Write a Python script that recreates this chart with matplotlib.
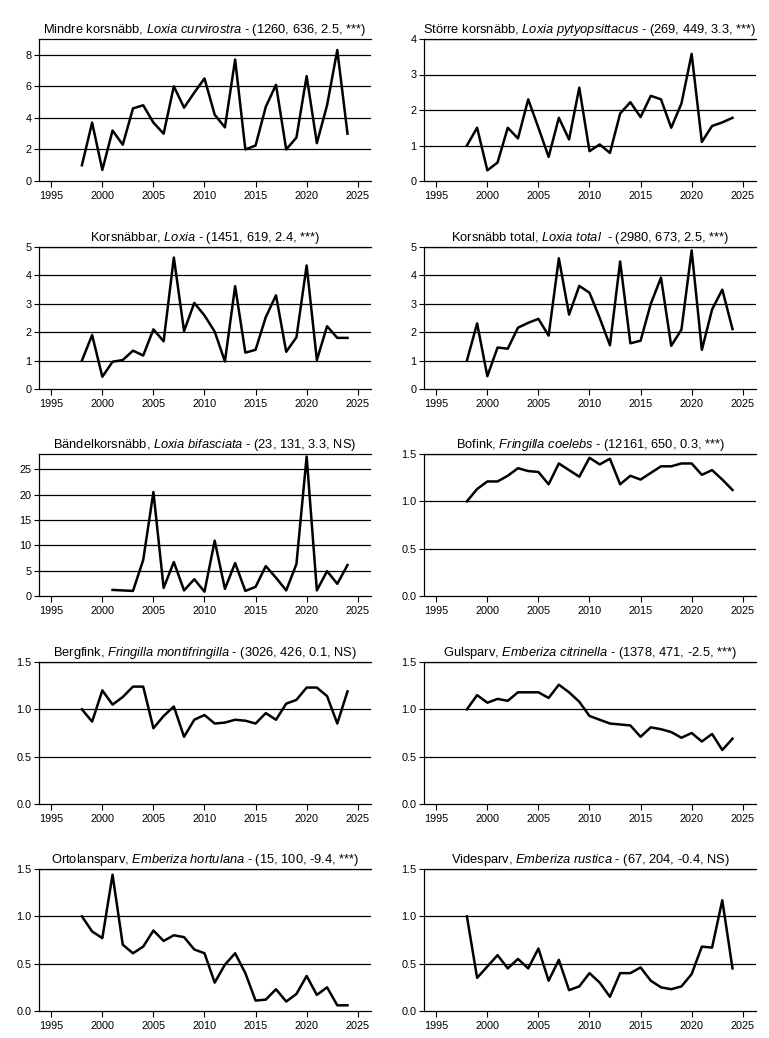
import matplotlib
matplotlib.use("Agg")
import matplotlib.pyplot as plt
import numpy as np

plt.rcParams['font.family'] = ['Liberation Sans', 'DejaVu Sans']
plt.rcParams['mathtext.fontset'] = 'custom'
plt.rcParams['mathtext.rm'] = 'Liberation Sans'
plt.rcParams['mathtext.it'] = 'Liberation Sans:italic'

years = list(range(1998, 2025))

# species names, latin names and stats for titles
names = ['Mindre korsnäbb', 'Större korsnäbb', 'Korsnäbbar', 'Korsnäbb total',
         'Bändelkorsnäbb', 'Bofink', 'Bergfink', 'Gulsparv', 'Ortolansparv', 'Videsparv']
latin = ['Loxia curvirostra', 'Loxia pytyopsittacus', 'Loxia', 'Loxia total ',
         'Loxia bifasciata', 'Fringilla coelebs', 'Fringilla montifringilla',
         'Emberiza citrinella', 'Emberiza hortulana', 'Emberiza rustica']
stats = ['(1260, 636, 2.5, ***)', '(269, 449, 3.3, ***)', '(1451, 619, 2.4, ***)',
         '(2980, 673, 2.5, ***)', '(23, 131, 3.3, NS)', '(12161, 650, 0.3, ***)',
         '(3026, 426, 0.1, NS)', '(1378, 471, -2.5, ***)', '(15, 100, -9.4, ***)',
         '(67, 204, -0.4, NS)']

mindre = [1.0, 3.7, 0.7, 3.2, 2.3, 4.6, 4.8, 3.7, 3.0, 6.0, 4.65, 5.6, 6.5, 4.2,
          3.4, 7.7, 2.0, 2.25, 4.7, 6.1, 2.0, 2.75, 6.65, 2.4, 4.8, 8.3, 3.0]
storre = [1.0, 1.5, 0.3, 0.52, 1.5, 1.2, 2.3, 1.5, 0.68, 1.78, 1.17, 2.63, 0.84, 1.03,
          0.79, 1.9, 2.22, 1.8, 2.4, 2.3, 1.5, 2.18, 3.58, 1.1, 1.55, 1.65, 1.78]
korsnabbar = [1.0, 1.9, 0.43, 0.96, 1.02, 1.35, 1.18, 2.1, 1.68, 4.63, 2.04, 3.03, 2.59,
              2.02, 0.97, 3.62, 1.28, 1.38, 2.53, 3.3, 1.31, 1.82, 4.35, 1.02, 2.21, 1.8, 1.8]
total = [1.0, 2.31, 0.45, 1.46, 1.42, 2.16, 2.33, 2.47, 1.88, 4.6, 2.62, 3.63, 3.39,
         2.5, 1.54, 4.49, 1.61, 1.7, 3.0, 3.92, 1.52, 2.09, 4.88, 1.38, 2.8, 3.5, 2.11]
bandel = [np.nan, np.nan, np.nan, 1.2, 1.1, 1.0, 7.1, 20.5, 1.6, 6.7, 1.1, 3.3, 0.85,
          10.9, 1.4, 6.5, 1.0, 1.8, 5.9, 3.6, 1.1, 6.3, 27.5, 1.1, 4.9, 2.4, 6.1]
bofink = [1.0, 1.13, 1.21, 1.21, 1.27, 1.35, 1.32, 1.31, 1.18, 1.40, 1.33, 1.26, 1.46,
          1.39, 1.45, 1.18, 1.27, 1.23, 1.30, 1.37, 1.37, 1.40, 1.40, 1.28, 1.33, 1.23, 1.12]
bergfink = [1.0, 0.87, 1.2, 1.05, 1.13, 1.24, 1.24, 0.80, 0.93, 1.03, 0.71, 0.89, 0.94,
            0.85, 0.86, 0.89, 0.88, 0.85, 0.96, 0.89, 1.06, 1.10, 1.23, 1.23, 1.14, 0.85, 1.19]
gulsparv = [1.0, 1.15, 1.07, 1.11, 1.09, 1.18, 1.18, 1.18, 1.12, 1.26, 1.18, 1.08, 0.93,
            0.89, 0.85, 0.84, 0.83, 0.71, 0.81, 0.79, 0.76, 0.70, 0.75, 0.66, 0.74, 0.57, 0.69]
ortolan = [1.0, 0.84, 0.77, 1.44, 0.70, 0.61, 0.68, 0.85, 0.74, 0.80, 0.78, 0.65, 0.61,
           0.30, 0.49, 0.61, 0.40, 0.11, 0.12, 0.23, 0.10, 0.18, 0.37, 0.17, 0.25, 0.06, 0.06]
videsparv = [1.0, 0.35, 0.47, 0.59, 0.45, 0.55, 0.45, 0.66, 0.32, 0.54, 0.22, 0.26, 0.40,
             0.30, 0.15, 0.40, 0.40, 0.46, 0.32, 0.25, 0.23, 0.26, 0.39, 0.68, 0.67, 1.17, 0.45]

series = [mindre, storre, korsnabbar, total, bandel, bofink, bergfink, gulsparv, ortolan, videsparv]
ylims = [9, 4, 5, 5, 28, 1.5, 1.5, 1.5, 1.5, 1.5]
yticks = [[0, 2, 4, 6, 8], [0, 1, 2, 3, 4], [0, 1, 2, 3, 4, 5], [0, 1, 2, 3, 4, 5],
          [0, 5, 10, 15, 20, 25]] + [[0, 0.5, 1.0, 1.5]] * 5

W, H = 769, 1038
fig = plt.figure(figsize=(W / 100, H / 100), dpi=100)

lefts = [39, 424]
tops = [39, 247, 454, 662, 869]
aw, ah = 332, 142

for i in range(10):
    row, col = i // 2, i % 2
    x0, y0 = lefts[col], tops[row]
    ax = fig.add_axes([x0 / W, 1 - (y0 + ah) / H, aw / W, ah / H])
    ax.set_xlim(1993.8, 2026.3)
    ax.set_ylim(0, ylims[i])
    ax.set_xticks([1995, 2000, 2005, 2010, 2015, 2020, 2025])
    ax.set_yticks(yticks[i])
    if i >= 5:
        ax.set_yticklabels(['0.0', '0.5', '1.0', '1.5'])
    for yv in yticks[i][1:]:
        ax.axhline(yv, color='black', lw=0.9, zorder=1)
    ax.plot(years, series[i], color='black', lw=1.8, zorder=3, clip_on=False)
    ax.spines['right'].set_visible(False)
    for s in ['left', 'bottom', 'top']:
        ax.spines[s].set_linewidth(0.9)
    ax.tick_params(axis='both', labelsize=7.8, direction='out', width=0.8)
    ax.tick_params(axis='y', length=3.5, pad=2)
    ax.tick_params(axis='x', length=4, pad=3)
    title = names[i] + ', $' + latin[i].strip().replace(' ', r'\ ') + '$' + \
        (' ' if latin[i].endswith(' ') else '') + ' - ' + stats[i]
    ax.set_title(title, fontsize=9.3, pad=4)

fig.savefig('out.png', dpi=100)
